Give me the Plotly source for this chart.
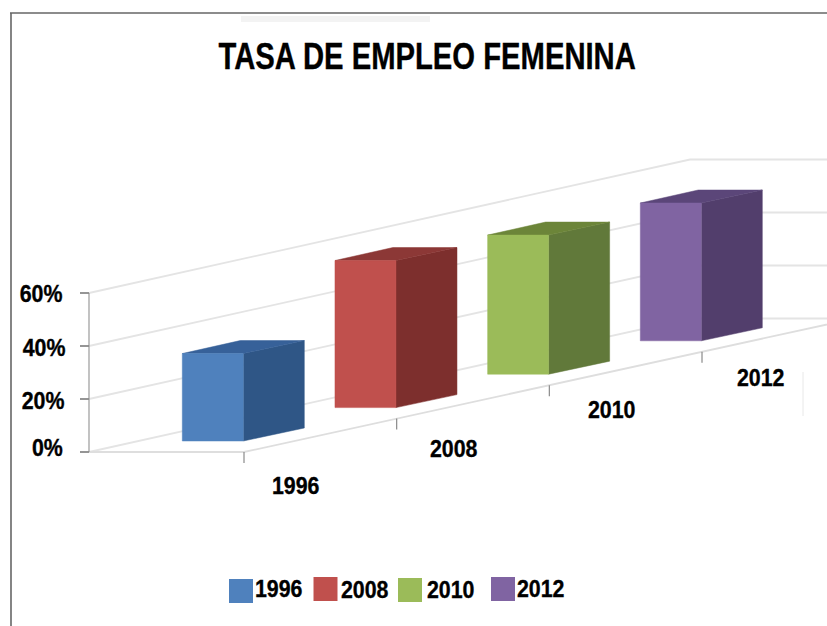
import plotly.graph_objects as go

# ---- data ----
years = ["1996", "2008", "2010", "2012"]
values = [33, 55.5, 52.5, 52]
pct_ticks = [0, 20, 40, 60]
pct_labels = ["0%", "20%", "40%", "60%"]
title_text = "TASA DE EMPLEO FEMENINA"

front_colors = ["#4f81bd", "#c0504d", "#9bbb59", "#8064a2"]
side_colors = ["#2f5686", "#7d2f2d", "#61793a", "#523e6c"]
top_colors = ["#376199", "#8c3836", "#6c8539", "#5b4679"]

# ---- oblique projection: x in category steps, y in percent ----
W, H = 827, 626
PX_X = 152.67      # pixels per category step
PX_Y = 2.65        # pixels per percent
ORIGIN_X, ORIGIN_Y = 244, 452
SHEAR = 33.4 / PX_Y          # rise of the floor per category step
WIDTH = 61 / PX_X            # front face width
DEPTH_X, DEPTH_Y = 61 / PX_X, 13 / PX_Y   # bar depth vector
LIFT = 11 / PX_Y             # bar base above the floor's front edge
BAR_SHIFT = -0.7 / PX_X      # bars sit just left of their ticks
WALL_L = (89 - ORIGIN_X) / PX_X
WALL_B = (690 - ORIGIN_X) / PX_X
WALL_R = (W - ORIGIN_X) / PX_X
WALL_RISE = 133.5 / PX_Y
RIGHT = WALL_R + 0.1

GRID = "#e4e4e4"
AXIS = "#9a9a9a"
FONT = "Liberation Sans"

def xp(px):
    return (px - ORIGIN_X) / PX_X

def yp(py):
    return (ORIGIN_Y - py) / PX_Y

fig = go.Figure()

def poly(xs, ys, color):
    fig.add_trace(go.Scatter(
        x=xs + xs[:1], y=ys + ys[:1], mode="lines", fill="toself",
        fillcolor=color, line=dict(color=color, width=0.5),
        hoverinfo="skip", showlegend=False))

def line(xs, ys, color, width):
    fig.add_trace(go.Scatter(x=xs, y=ys, mode="lines",
                             line=dict(color=color, width=width),
                             hoverinfo="skip", showlegend=False))

# wall gridlines
for v in pct_ticks:
    line([WALL_L, WALL_B, RIGHT], [v, v + WALL_RISE, v + WALL_RISE], GRID, 1.8)

# floor front edge
line([WALL_L, 0, RIGHT], [0, 0, RIGHT * SHEAR], "#dedede", 1.8)

# value axis and ticks
line([WALL_L, WALL_L], [0, pct_ticks[-1]], AXIS, 1.2)
for v in pct_ticks:
    line([WALL_L - 9 / PX_X, WALL_L], [v, v], "#8a8a8a", 1.8)

# category ticks
for i in range(len(years)):
    line([i, i], [i * SHEAR, i * SHEAR - 11 / PX_Y], "#8a8a8a", 1.2)

# bars
for i, v in enumerate(values):
    x1 = i + BAR_SHIFT
    x0 = x1 - WIDTH
    y0 = LIFT + i * SHEAR
    y1 = y0 + v
    poly([x1, x1 + DEPTH_X, x1 + DEPTH_X, x1],
         [y0, y0 + DEPTH_Y, y1 + DEPTH_Y, y1], side_colors[i])
    poly([x0, x0 + DEPTH_X - 0.02, x1 + DEPTH_X, x1],
         [y1, y1 + DEPTH_Y, y1 + DEPTH_Y, y1], top_colors[i])
    poly([x0, x1, x1, x0], [y0, y0, y1, y1], front_colors[i])

# legend swatches
swatch_px = [241, 325.5, 410, 503]
swatch_py = [591, 589, 590, 589]
fig.add_trace(go.Scatter(
    x=[xp(p) for p in swatch_px], y=[yp(p) for p in swatch_py], mode="markers",
    marker=dict(symbol="square", size=24, color=front_colors, line=dict(width=0)),
    hoverinfo="skip", showlegend=False))

ann = []
def text(s, px, py, size):
    ann.append(dict(x=xp(px), y=yp(py), xref="x", yref="y", text=s,
                    showarrow=False, xanchor="center", yanchor="middle",
                    font=dict(family=FONT, size=size, color="#000000", weight="bold")))

text(title_text, 426.5, 56, 37)

pct_px = [47, 42.5, 43.5, 40.5]
pct_py = [447, 400, 347, 293]
for s, px, py in zip(pct_labels, pct_px, pct_py):
    text(s, px, py, 24)

cat_px = [295.5, 453, 611, 760.5]
cat_py = [485, 448, 409, 377]
for s, px, py in zip(years, cat_px, cat_py):
    text(s, px, py, 24)

leg_px = [278.5, 364.7, 450, 540]
leg_py = [588, 589, 589, 588]
for s, px, py in zip(years, leg_px, leg_py):
    text(s, px, py, 24)

fig.update_layout(
    width=W, height=H, margin=dict(l=0, r=0, t=0, b=0),
    paper_bgcolor="#ffffff", plot_bgcolor="#ffffff",
    xaxis=dict(range=[xp(0), xp(W)], visible=False, fixedrange=True),
    yaxis=dict(range=[yp(H), yp(0)], visible=False, fixedrange=True),
    showlegend=False, annotations=ann,
    shapes=[
        dict(type="line", xref="x", yref="y", x0=xp(10), x1=xp(W), y0=yp(13), y1=yp(13),
             line=dict(color="#666666", width=1.6)),
        dict(type="line", xref="x", yref="y", x0=xp(11), x1=xp(11), y0=yp(13), y1=yp(H),
             line=dict(color="#666666", width=1.6)),
        dict(type="line", xref="x", yref="y", x0=xp(803), x1=xp(803), y0=yp(372), y1=yp(416),
             line=dict(color="#e8e8e8", width=1)),
        dict(type="rect", xref="x", yref="y", x0=xp(241), x1=xp(430), y0=yp(16), y1=yp(22),
             fillcolor="#f3f3f3", line=dict(width=0), layer="below"),
    ],
)
# the reference lettering is a condensed grotesque: narrow the real text horizontally
squeeze = """
document.body.style.margin='0';document.body.style.overflow='hidden';
function narrow(){document.querySelectorAll('.annotation-text').forEach(function(t){
  if(t.getAttribute('textLength'))return;
  var w=t.getComputedTextLength();
  var k=t.textContent.length>10?0.79:0.89;
  t.setAttribute('textLength',w*k);t.setAttribute('lengthAdjust','spacingAndGlyphs');
  t.style.stroke='#000';t.style.strokeWidth='0.35px';});}
narrow();setTimeout(narrow,50);
"""
fig.write_html("out.html", config=dict(displayModeBar=False), post_script=squeeze)
